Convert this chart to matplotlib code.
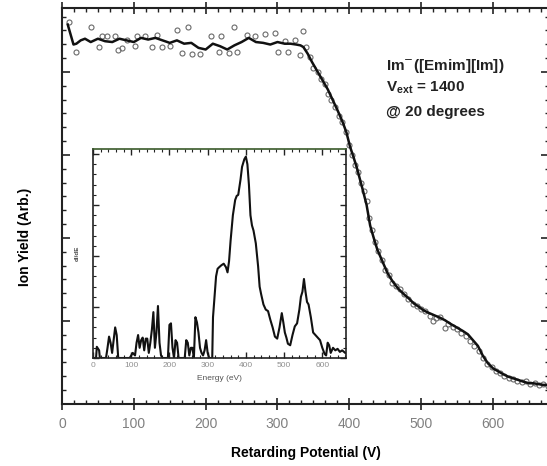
import numpy as np
import matplotlib
matplotlib.use('Agg')
import matplotlib.pyplot as plt
from matplotlib.ticker import MultipleLocator, NullFormatter

plt.rcParams['font.family'] = ['Liberation Sans', 'DejaVu Sans']

# smoothed ion yield curve
line_v = [8, 12, 16, 20, 26, 32, 40, 50, 60, 70, 80, 90, 100, 110, 120, 130, 140, 150,
          160, 170, 180, 190, 200, 210, 220, 230, 240, 250, 260, 270, 280, 290, 300, 310,
          318, 326, 332, 336, 342, 348, 356, 364, 370, 377, 384, 391, 396, 401, 406, 411,
          415, 419, 424, 429, 434, 439, 446, 453, 460, 468, 475, 483, 490, 497, 503, 510,
          518, 526, 533, 540, 548, 558, 565, 572, 579, 586, 593, 600, 606, 614, 621, 628,
          635, 642, 650, 656, 663, 670, 676]
line_y = [4.57, 4.45, 4.33, 4.34, 4.38, 4.40, 4.36, 4.40, 4.37, 4.36, 4.40, 4.38, 4.36,
          4.41, 4.39, 4.41, 4.38, 4.35, 4.38, 4.34, 4.35, 4.29, 4.27, 4.34, 4.31, 4.27,
          4.32, 4.36, 4.41, 4.36, 4.35, 4.33, 4.36, 4.34, 4.34, 4.33, 4.32, 4.30, 4.22,
          4.12, 4.00, 3.88, 3.79, 3.66, 3.53, 3.39, 3.27, 3.10, 2.97, 2.83, 2.70, 2.57,
          2.40, 2.15, 2.00, 1.86, 1.72, 1.58, 1.48, 1.39, 1.33, 1.27, 1.21, 1.17, 1.13,
          1.10, 1.07, 1.04, 1.01, 0.97, 0.93, 0.88, 0.84, 0.77, 0.70, 0.58, 0.49, 0.43,
          0.40, 0.36, 0.33, 0.31, 0.29, 0.27, 0.25, 0.25, 0.24, 0.23, 0.23]

# raw data points
pts_v = [10, 20, 41, 51, 55, 62, 74, 78, 83, 90, 102, 104, 116, 125, 132, 139, 150, 160,
         167, 176, 181, 192, 208, 218, 222, 232, 239, 243, 257, 269, 283, 297, 301, 311,
         315, 325, 331, 336,
         340, 345, 350, 356, 360, 366, 370, 375, 380, 385, 390, 395, 400, 404, 408, 412,
         416, 420, 424, 428, 432, 436, 440, 445, 450, 455, 460, 465, 470, 476, 482, 488,
         494, 500, 506, 512, 516, 520, 526, 533, 538, 544, 550, 556, 562, 568, 574, 580,
         586, 592, 598, 604, 610, 616, 622, 628, 634, 640, 646, 652, 658, 664, 670, 676]
pts_y = [4.60, 4.24, 4.54, 4.30, 4.43, 4.43, 4.43, 4.27, 4.29, 4.39, 4.31, 4.43, 4.43,
         4.30, 4.45, 4.30, 4.31, 4.51, 4.23, 4.54, 4.21, 4.21, 4.43, 4.24, 4.43, 4.23,
         4.54, 4.24, 4.45, 4.43, 4.46, 4.47, 4.24, 4.37, 4.24, 4.39, 4.20, 4.49,
         4.30, 4.18, 4.05, 4.00, 3.92, 3.85, 3.74, 3.66, 3.58, 3.47, 3.40, 3.28, 3.12,
         3.00, 2.88, 2.80, 2.66, 2.56, 2.44, 2.24, 2.10, 1.95, 1.84, 1.74, 1.62, 1.55,
         1.46, 1.42, 1.38, 1.32, 1.26, 1.20, 1.18, 1.14, 1.12, 1.06, 1.00, 1.04, 1.05,
         0.92, 0.96, 0.93, 0.90, 0.85, 0.82, 0.76, 0.70, 0.64, 0.56, 0.48, 0.44, 0.40,
         0.37, 0.34, 0.31, 0.30, 0.28, 0.26, 0.28, 0.24, 0.25, 0.23, 0.24, 0.22]

# inset: energy distribution
spec_e = [0, 8, 10, 16, 18, 34, 38, 42, 46, 50, 54, 58, 62, 66, 70, 96, 104, 110, 114,
          118, 122, 126, 130, 134, 138, 142, 146, 150, 154, 158, 162, 166, 170, 174, 178,
          182, 196, 200, 204, 208, 212, 216, 220, 224, 240, 244, 248, 252, 256, 260, 264,
          268, 272, 276, 280, 284, 288, 292, 296, 300, 304, 308, 312, 314, 318, 322, 326,
          330, 336, 342, 348, 352, 356, 360, 366, 372, 376, 380, 386, 390, 396, 400, 404,
          408, 412, 416, 420, 426, 432, 436, 440, 446, 452, 458, 464, 470, 476, 482, 488,
          494, 498, 502, 506, 510, 516, 522, 528, 534, 540, 544, 548, 552, 556, 560, 564,
          570, 576, 582, 588, 594, 600, 606, 610, 614, 618, 622, 628, 634, 640, 646, 652,
          660]
spec_y = [0, 0, 0.22, 0.15, 0, 0, 0.2, 0.42, 0.3, 0.1, 0.35, 0.6, 0.45, 0, 0, 0, 0.1,
          0.05, 0.3, 0.45, 0.2, 0.35, 0.4, 0.15, 0.38, 0.38, 0.1, 0.3, 0.55, 0.9, 0.2,
          0.5, 1.02, 0.3, 0.05, 0, 0, 0.65, 0.68, 0.2, 0, 0.35, 0.3, 0, 0, 0.35, 0.3, 0.05,
          0.2, 0.2, 0, 0.8, 0.7, 0.5, 0.2, 0.1, 0.05, 0.15, 0.35, 0.1, 0, 0, 0, 0.8, 1.2,
          1.6, 1.75, 1.78, 1.82, 1.85, 1.78, 1.68, 1.9, 2.3, 2.8, 3.1, 3.18, 3.2, 3.5, 3.75,
          3.9, 3.95, 3.8, 3.4, 2.8, 2.6, 2.5, 2.25, 1.8, 1.4, 1.25, 1.05, 0.95, 0.92, 0.75,
          0.6, 0.42, 0.38, 0.6, 0.88, 0.7, 0.5, 0.4, 0.28, 0.25, 0.45, 0.62, 0.68, 0.95,
          1.2, 1.3, 1.55, 1.3, 1.1, 1.05, 0.8, 0.5, 0.45, 0.4, 0.35, 0.2, 0.08, 0.05, 0.3,
          0.25, 0.1, 0.2, 0.15, 0.18, 0.12, 0.15, 0.1]

W, H = 547, 466
fig = plt.figure(figsize=(W / 100, H / 100), dpi=100)

ax = fig.add_axes([62 / W, 1 - 404 / H, (549 - 62) / W, (404 - 8) / H])
ax.plot(pts_v, pts_y, 'o', ms=3.6, mfc='none', mec='#6a6a6a', mew=0.8)
ax.plot(line_v, line_y, color='#111111', lw=1.8)
ax.set_xlim(0, 678)
ax.set_ylim(0, 4.77)
ax.xaxis.set_major_locator(MultipleLocator(100))
ax.xaxis.set_minor_locator(MultipleLocator(100 / 6))
ax.yaxis.set_major_locator(MultipleLocator(1))
ax.yaxis.set_minor_locator(MultipleLocator(1 / 6))
ax.yaxis.set_major_formatter(NullFormatter())
ax.tick_params(which='both', top=True, right=True, color='#222222')
ax.tick_params(axis='x', which='major', direction='inout', length=9, width=1.2,
               labelsize=10, labelcolor='#808080', pad=5)
ax.tick_params(axis='x', which='minor', direction='in', length=3, width=1)
ax.tick_params(axis='y', which='major', direction='in', length=6, width=1.2)
ax.tick_params(axis='y', which='minor', direction='in', length=3, width=1)
for s in ax.spines.values():
    s.set_linewidth(1.5)
    s.set_color('#222222')

ax.set_xlabel('Retarding Potential (V)', fontsize=10, fontweight='bold', labelpad=11)
fig.text(25 / W, 1 - 237 / H, 'Ion Yield (Arb.)', rotation=90, fontsize=10,
         fontweight='bold', ha='center', va='center')

tx = 386 / W
fig.text(tx, 1 - 66 / H, r'Im$^{-}$([Emim][Im])', fontsize=11, fontweight='bold',
         va='center', color='#222222')
fig.text(tx, 1 - 88 / H, r'V$_{\mathregular{ext}}$ = 1400', fontsize=11,
         fontweight='bold', va='center', color='#222222')
fig.text(tx, 1 - 112 / H, '@ 20 degrees', fontsize=11, fontweight='bold',
         va='center', color='#222222')

ins = fig.add_axes([93 / W, 1 - 358 / H, (346 - 93) / W, (358 - 149) / H])
ins.plot(spec_e, spec_y, color='#111111', lw=1.5)
ins.set_xlim(0, 662)
ins.set_ylim(0, 4.1)
ins.xaxis.set_major_locator(MultipleLocator(100))
ins.xaxis.set_minor_locator(MultipleLocator(20))
ins.yaxis.set_major_locator(MultipleLocator(1))
ins.yaxis.set_minor_locator(MultipleLocator(0.2))
ins.yaxis.set_major_formatter(NullFormatter())
ins.tick_params(which='both', direction='in', top=True, right=True, color='#222222')
ins.tick_params(which='major', length=4, width=1, labelsize=6, labelcolor='#909090', pad=3)
ins.tick_params(which='minor', length=2, width=0.8)
for s in ins.spines.values():
    s.set_linewidth(1.2)
    s.set_color('#222222')
ins.spines['top'].set_color('#3a5a2a')
ins.set_xlabel('Energy (eV)', fontsize=6, color='#555555', labelpad=4)
ins.set_ylabel('dI/dE', fontsize=4.5, fontweight='bold', color='#444444', labelpad=6)

fig.savefig('out.png', dpi=100)
